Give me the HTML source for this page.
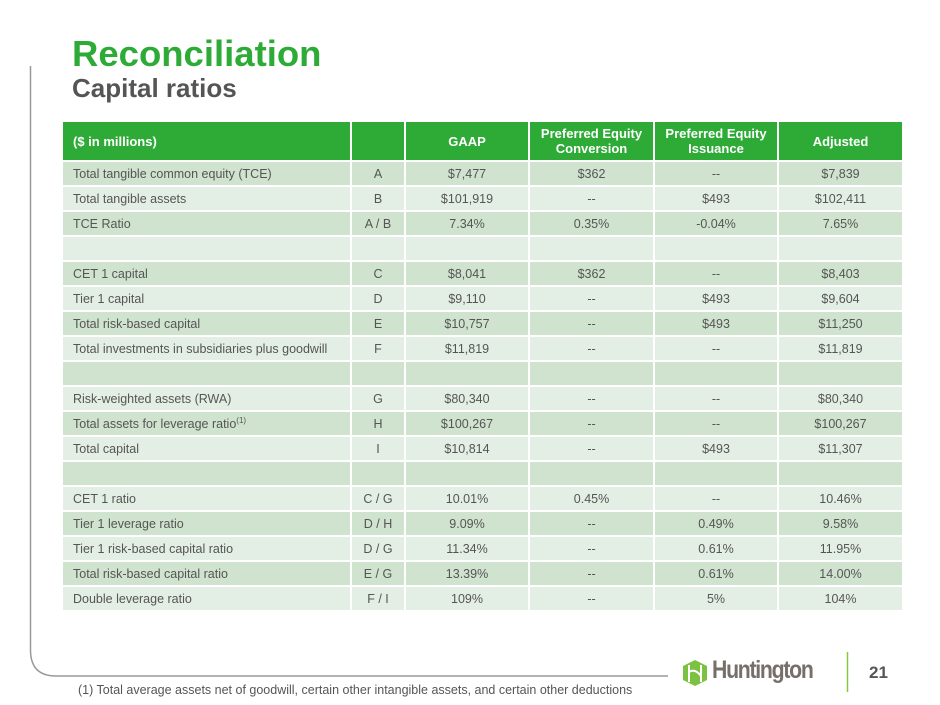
<!DOCTYPE html>
<html><head><meta charset="utf-8"><style>
body{margin:0;width:940px;height:705px;background:#fff;position:relative;overflow:hidden;font-family:"Liberation Sans",sans-serif}
.a{position:absolute}
table{position:absolute;left:61px;top:120px;border-collapse:separate;border-spacing:2px;table-layout:fixed}
td{font-size:12.5px;color:#555;height:23px;padding:0;text-align:center}
td:first-child{text-align:left;padding-left:10px}
tr.h td{background:#2eab37;color:#fff;font-weight:bold;height:38px;font-size:13px;line-height:15px}
tr.o td{background:#cfe3cf}
tr.e td{background:#e3efe4}
sup{font-size:8px}
</style></head><body>
<div class="a" style="left:72px;top:33px;font-size:36.5px;font-weight:bold;color:#2eab37;line-height:42px">Reconciliation</div>
<div class="a" style="left:72px;top:73px;font-size:26px;font-weight:bold;color:#555;line-height:30px">Capital ratios</div>
<svg class="a" style="left:0;top:0" width="940" height="705"><path d="M30.5 66 V650 Q30.5 676 56 676 H668" fill="none" stroke="#999" stroke-width="1.5"/>
<line x1="847.5" y1="652" x2="847.5" y2="692" stroke="#8cc63f" stroke-width="1.5"/>
<polygon points="695,660 707,666 707,680 695,686 683,680 683,666" fill="#7cc142"/>
<path d="M689 665 V682 M701 665 V682 M689 672 Q695 668 701 676" stroke="#fff" stroke-width="2" fill="none"/>
</svg>
<div class="a" style="left:712px;top:656px;font-size:25px;font-weight:bold;color:#77706a;letter-spacing:-1.5px;transform:scaleX(0.85);transform-origin:left">Huntington</div>
<div class="a" style="left:869px;top:663px;font-size:17px;font-weight:bold;color:#555">21</div>
<div class="a" style="left:78px;top:683px;font-size:12.5px;color:#555">(1) Total average assets net of goodwill, certain other intangible assets, and certain other deductions</div>
<table>
<colgroup><col style="width:287px"><col style="width:52px"><col style="width:122px"><col style="width:123px"><col style="width:122px"><col style="width:123px"></colgroup>
<tr class="h"><td>($ in millions)</td><td></td><td>GAAP</td><td>Preferred Equity<br>Conversion</td><td>Preferred Equity<br>Issuance</td><td>Adjusted</td></tr>
<tr class="o"><td>Total tangible common equity (TCE)</td><td>A</td><td>$7,477</td><td>$362</td><td>--</td><td>$7,839</td></tr>
<tr class="e"><td>Total tangible assets</td><td>B</td><td>$101,919</td><td>--</td><td>$493</td><td>$102,411</td></tr>
<tr class="o"><td>TCE Ratio</td><td>A / B</td><td>7.34%</td><td>0.35%</td><td>-0.04%</td><td>7.65%</td></tr>
<tr class="e"><td></td><td></td><td></td><td></td><td></td><td></td></tr>
<tr class="o"><td>CET 1 capital</td><td>C</td><td>$8,041</td><td>$362</td><td>--</td><td>$8,403</td></tr>
<tr class="e"><td>Tier 1 capital</td><td>D</td><td>$9,110</td><td>--</td><td>$493</td><td>$9,604</td></tr>
<tr class="o"><td>Total risk-based capital</td><td>E</td><td>$10,757</td><td>--</td><td>$493</td><td>$11,250</td></tr>
<tr class="e"><td>Total investments in subsidiaries plus goodwill</td><td>F</td><td>$11,819</td><td>--</td><td>--</td><td>$11,819</td></tr>
<tr class="o"><td></td><td></td><td></td><td></td><td></td><td></td></tr>
<tr class="e"><td>Risk-weighted assets (RWA)</td><td>G</td><td>$80,340</td><td>--</td><td>--</td><td>$80,340</td></tr>
<tr class="o"><td>Total assets for leverage ratio<sup>(1)</sup></td><td>H</td><td>$100,267</td><td>--</td><td>--</td><td>$100,267</td></tr>
<tr class="e"><td>Total capital</td><td>I</td><td>$10,814</td><td>--</td><td>$493</td><td>$11,307</td></tr>
<tr class="o"><td></td><td></td><td></td><td></td><td></td><td></td></tr>
<tr class="e"><td>CET 1 ratio</td><td>C / G</td><td>10.01%</td><td>0.45%</td><td>--</td><td>10.46%</td></tr>
<tr class="o"><td>Tier 1 leverage ratio</td><td>D / H</td><td>9.09%</td><td>--</td><td>0.49%</td><td>9.58%</td></tr>
<tr class="e"><td>Tier 1 risk-based capital ratio</td><td>D / G</td><td>11.34%</td><td>--</td><td>0.61%</td><td>11.95%</td></tr>
<tr class="o"><td>Total risk-based capital ratio</td><td>E / G</td><td>13.39%</td><td>--</td><td>0.61%</td><td>14.00%</td></tr>
<tr class="e"><td>Double leverage ratio</td><td>F / I</td><td>109%</td><td>--</td><td>5%</td><td>104%</td></tr>
</table>
</body></html>
